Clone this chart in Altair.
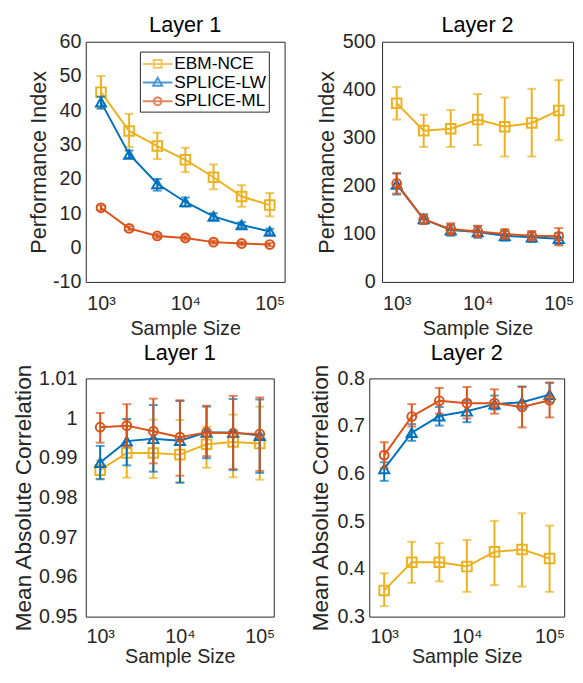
import altair as alt
import pandas as pd

# ---------------- data ----------------
N = [1000, 2154, 4642, 10000, 21544, 46416, 100000]
SERIES = ["EBM-NCE", "SPLICE-LW", "SPLICE-ML"]
COLORS = ["#EDB120", "#0072BD", "#D95319"]
SHAPES = ["square", "triangle-up", "circle"]
SHAPE_SIZES = [95, 105, 80]
LEGEND_SHAPES = [
    "M-1,0H2.16M0.16,-0.42H1V0.42H0.16Z",
    "M-1,0H2.16M0.58,-0.52L1.06,0.34H0.1Z",
    "M-1,0H2.16M1,0L0.94,0.21L0.79,0.36L0.58,0.42L0.37,0.36L0.22,0.21L0.16,0"
    "L0.22,-0.21L0.37,-0.36L0.58,-0.42L0.79,-0.36L0.94,-0.21Z",
]

pi1_ebm = [45.3, 34.0, 29.6, 25.6, 20.5, 14.9, 12.4]
pi1_ebm_hi = [50.0, 39.0, 33.5, 29.1, 24.2, 18.2, 15.9]
pi1_ebm_lo = [40.6, 29.3, 25.8, 22.0, 17.0, 11.9, 9.1]
pi1_lw = [42.4, 27.2, 18.6, 13.3, 9.1, 6.6, 4.7]
pi1_lw_hi = [44.0, 28.3, 20.0, 14.6, 10.0, 7.4, 5.5]
pi1_lw_lo = [40.5, 26.1, 16.6, 12.0, 8.2, 5.8, 3.9]
pi1_ml = [11.6, 5.6, 3.4, 2.8, 1.6, 1.2, 0.9]
pi1_ml_hi = [12.3, 6.2, 4.0, 3.4, 2.1, 1.7, 1.4]
pi1_ml_lo = [10.9, 5.0, 2.8, 2.2, 1.1, 0.7, 0.4]

pi2_ebm = [372, 315, 319, 338, 323, 331, 357]
pi2_ebm_hi = [406, 348, 358, 391, 384, 402, 420]
pi2_ebm_lo = [338, 281, 281, 285, 261, 261, 295]
pi2_lw = [203, 131, 108, 104, 96, 93, 90]
pi2_lw_hi = [226, 141, 120, 116, 106, 103, 102]
pi2_lw_lo = [182, 121, 96, 92, 86, 83, 78]
pi2_ml = [205, 130, 110, 105, 100, 96, 95]
pi2_ml_hi = [226, 139, 122, 117, 110, 106, 112]
pi2_ml_lo = [184, 121, 98, 93, 90, 86, 76]

mc1_ebm = [0.9869, 0.9912, 0.9912, 0.9908, 0.9934, 0.9940, 0.9936]
mc1_ebm_hi = [0.9893, 0.9996, 0.9996, 0.9995, 0.9978, 1.0009, 1.0029]
mc1_ebm_lo = [0.9847, 0.9850, 0.9849, 0.9839, 0.9875, 0.9851, 0.9845]
mc1_lw = [0.9888, 0.9942, 0.9948, 0.9943, 0.9964, 0.9964, 0.9956]
mc1_lw_hi = [0.9930, 0.9998, 1.0033, 1.0043, 1.0029, 1.0048, 1.0047]
mc1_lw_lo = [0.9846, 0.9881, 0.9865, 0.9837, 0.9899, 0.9869, 0.9862]
mc1_ml = [0.9977, 0.9981, 0.9967, 0.9952, 0.9964, 0.9962, 0.9960]
mc1_ml_hi = [1.0013, 1.0035, 1.0049, 1.0045, 1.0031, 1.0056, 1.0052]
mc1_ml_lo = [0.9938, 0.9928, 0.9886, 0.9855, 0.9904, 0.9872, 0.9867]

mc2_ebm = [0.355, 0.414, 0.414, 0.405, 0.436, 0.441, 0.422]
mc2_ebm_hi = [0.391, 0.457, 0.454, 0.461, 0.501, 0.517, 0.491]
mc2_ebm_lo = [0.322, 0.371, 0.374, 0.352, 0.366, 0.363, 0.352]
mc2_lw = [0.610, 0.686, 0.721, 0.731, 0.746, 0.750, 0.766]
mc2_lw_hi = [0.624, 0.704, 0.740, 0.753, 0.764, 0.783, 0.791]
mc2_lw_lo = [0.585, 0.669, 0.701, 0.708, 0.735, 0.736, 0.750]
mc2_ml = [0.639, 0.720, 0.753, 0.748, 0.748, 0.740, 0.754]
mc2_ml_hi = [0.666, 0.746, 0.780, 0.782, 0.777, 0.782, 0.791]
mc2_ml_lo = [0.612, 0.699, 0.726, 0.716, 0.726, 0.697, 0.718]

X_TICKS = [1000, 10000, 100000]
X_DOMAIN = [660, 150000]

FONT = "Liberation Sans"
AX = "#262626"


def panel(title, ytitle, series_data, ydom, yvals, yfmt, w, h,
          label_pad, title_pad, ytitle_size, title_offset,
          xlabel_pad, xtitle_pad, legend=False):
    xs = alt.Scale(type="log", domain=X_DOMAIN, nice=False)
    xa = alt.Axis(values=X_TICKS, grid=False, ticks=False, domain=False,
                  labelExpr="datum.value == 1000 ? '10³' : datum.value == 10000 ? '10⁴' : '10⁵'",
                  title="Sample Size", labelFontSize=20, titleFontSize=20,
                  labelPadding=xlabel_pad, titlePadding=xtitle_pad,
                  labelColor=AX, titleColor=AX,
                  labelFont=FONT, titleFont=FONT, titleFontWeight="normal",
                  labelFlush=False)
    ys = alt.Scale(domain=ydom, nice=False, zero=False)
    ya = alt.Axis(values=yvals, format=yfmt, grid=False, ticks=False, domain=False,
                  labelExpr="replace(datum.label, '−', '-')",
                  title=ytitle, labelFontSize=20, titleFontSize=ytitle_size,
                  labelPadding=label_pad, titlePadding=title_pad,
                  labelColor=AX, titleColor=AX, labelFont=FONT, titleFont=FONT,
                  titleFontWeight="normal", labelFlush=False)
    layers = []
    for (name, c, lo, hi), color, shape, ssize in zip(series_data, COLORS, SHAPES, SHAPE_SIZES):
        df = pd.DataFrame({"n": N, "v": c, "lo": lo, "hi": hi})
        base = alt.Chart(df)
        x = alt.X("n:Q", scale=xs, axis=xa)
        rule = base.mark_rule(color=color, strokeWidth=2).encode(
            x=x, y=alt.Y("lo:Q", scale=ys, axis=ya), y2="hi:Q")
        cap_lo = base.mark_tick(color=color, thickness=2, size=9, orient="horizontal").encode(
            x=x, y=alt.Y("lo:Q", scale=ys, axis=ya))
        cap_hi = base.mark_tick(color=color, thickness=2, size=9, orient="horizontal").encode(
            x=x, y=alt.Y("hi:Q", scale=ys, axis=ya))
        line = base.mark_line(color=color, strokeWidth=2).encode(
            x=x, y=alt.Y("v:Q", scale=ys, axis=ya))
        pts = base.mark_point(color=color, shape=shape, filled=False, strokeWidth=2,
                              size=ssize, opacity=1).encode(
            x=x, y=alt.Y("v:Q", scale=ys, axis=ya))
        layers += [rule, cap_lo, cap_hi, line, pts]
    if legend:
        leg = alt.Legend(title=None, orient="none", legendX=55, legendY=10,
                         labelFont=FONT, labelFontSize=17.5, labelColor="black",
                         symbolSize=361, symbolStrokeWidth=2, strokeColor=AX,
                         fillColor="white", padding=2, rowPadding=0, labelOffset=12,
                         cornerRadius=0)
        ldf = pd.DataFrame({"n": [N[0]] * 3, "v": [ydom[0]] * 3, "series": SERIES})
        dummy = alt.Chart(ldf).transform_filter("false").mark_point(
            filled=False, strokeWidth=2).encode(
            x=alt.X("n:Q", scale=xs, axis=xa),
            y=alt.Y("v:Q", scale=ys, axis=ya),
            color=alt.Color("series:N", scale=alt.Scale(domain=SERIES, range=COLORS), legend=leg),
            shape=alt.Shape("series:N", scale=alt.Scale(domain=SERIES, range=LEGEND_SHAPES), legend=leg),
        )
        layers.append(dummy)
    return alt.layer(*layers).properties(
        width=w, height=h,
        title=alt.TitleParams(title, fontSize=22, font=FONT, fontWeight="normal",
                              color="black", offset=title_offset, frame="group"))


tl = panel("Layer 1", "Performance Index",
           [("EBM-NCE", pi1_ebm, pi1_ebm_lo, pi1_ebm_hi),
            ("SPLICE-LW", pi1_lw, pi1_lw_lo, pi1_lw_hi),
            ("SPLICE-ML", pi1_ml, pi1_ml_lo, pi1_ml_hi)],
           [-10, 60], list(range(-10, 61, 10)), "d", 202, 244,
           5, 2, 22, -5, 12, 5, legend=True)
tr = panel("Layer 2", "Performance Index",
           [("EBM-NCE", pi2_ebm, pi2_ebm_lo, pi2_ebm_hi),
            ("SPLICE-LW", pi2_lw, pi2_lw_lo, pi2_lw_hi),
            ("SPLICE-ML", pi2_ml, pi2_ml_lo, pi2_ml_hi)],
           [0, 500], list(range(0, 501, 100)), "d", 194, 244,
           7, 4, 22, -5, 12, 5)
bl = panel("Layer 1", "Mean Absolute Correlation",
           [("EBM-NCE", mc1_ebm, mc1_ebm_lo, mc1_ebm_hi),
            ("SPLICE-LW", mc1_lw, mc1_lw_lo, mc1_lw_hi),
            ("SPLICE-ML", mc1_ml, mc1_ml_lo, mc1_ml_hi)],
           [0.95, 1.01], [0.95, 0.96, 0.97, 0.98, 0.99, 1.0, 1.01], ".2~f", 191, 242,
           9, 3, 23, -1, 10, 1)
br = panel("Layer 2", "Mean Absolute Correlation",
           [("EBM-NCE", mc2_ebm, mc2_ebm_lo, mc2_ebm_hi),
            ("SPLICE-LW", mc2_lw, mc2_lw_lo, mc2_lw_hi),
            ("SPLICE-ML", mc2_ml, mc2_ml_lo, mc2_ml_hi)],
           [0.3, 0.8], [0.3, 0.4, 0.5, 0.6, 0.7, 0.8], ".1f", 198, 242,
           5, 5, 23, -1, 10, 1)

top = alt.hconcat(tl, tr, spacing=30).resolve_scale(
    color="independent", shape="independent").resolve_legend(
    color="independent", shape="independent")
bottom = alt.hconcat(bl, br, spacing=33)
chart = alt.vconcat(top, bottom, spacing=2).resolve_scale(
    color="independent", shape="independent").resolve_legend(
    color="independent", shape="independent").properties(
    padding={"left": 4, "top": 0, "right": 0, "bottom": 0}
).configure_view(stroke=AX, strokeWidth=1)

chart.save("out.html", embed_options={"renderer": "svg", "actions": False})
